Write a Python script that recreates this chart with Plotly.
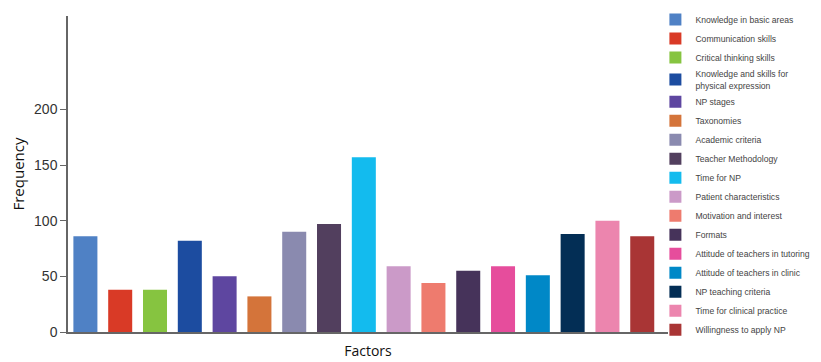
import plotly.graph_objects as go

factors = [
    "Knowledge in basic areas",
    "Communication skills",
    "Critical thinking skills",
    "Knowledge and skills for<br>physical expression",
    "NP stages",
    "Taxonomies",
    "Academic criteria",
    "Teacher Methodology",
    "Time for NP",
    "Patient characteristics",
    "Motivation and interest",
    "Formats",
    "Attitude of teachers in tutoring",
    "Attitude of teachers in clinic",
    "NP teaching criteria",
    "Time for clinical practice",
    "Willingness to apply NP",
]
frequency = [86, 38, 38, 82, 50, 32, 90, 97, 157, 59, 44, 55, 59, 51, 88, 100, 86]
colors = [
    "#4F81C5", "#D93A26", "#86C440", "#1C4CA0", "#5E46A0", "#D4743A",
    "#8A8AAF", "#523F5E", "#13BBEE", "#CB9AC8", "#EE7B6E", "#46335A",
    "#E64D9C", "#0088C7", "#032E55", "#EC85AE", "#A93535",
]
y_ticks = [0, 50, 100, 150, 200]

fig = go.Figure()
for i, (name, val, col) in enumerate(zip(factors, frequency, colors)):
    fig.add_trace(go.Bar(
        x=[i], y=[val], name=name, marker=dict(color=col, line=dict(width=0)),
        showlegend=True,
    ))

# page body has an 8px margin, so the figure is sized 8px smaller
fig.update_layout(
    width=813, height=354,
    margin=dict(l=60, r=153, t=8, b=30, autoexpand=False),
    plot_bgcolor="white", paper_bgcolor="white",
    barmode="overlay", bargap=0.31,
    font=dict(family="Liberation Sans, Arial, sans-serif", color="#333"),
    legend=dict(
        x=0.979, xanchor="left", y=1.035, yanchor="top",
        font=dict(size=8.6, color="#444"),
        bgcolor="rgba(0,0,0,0)", traceorder="normal",
        maxheight=360,
    ),
    xaxis=dict(
        range=[-0.5, 16.74], showticklabels=False, showgrid=False, zeroline=False,
        showline=True, linecolor="#666", linewidth=1.5, ticks="",
        title=dict(text="Factors", font=dict(family="Open Sans, sans-serif", size=14, color="#111"), standoff=13),
        automargin=False,
    ),
    yaxis=dict(
        range=[0, 284], tickvals=y_ticks, showgrid=False, zeroline=False,
        showline=True, linecolor="#666", linewidth=1.5,
        ticks="outside", ticklen=6, tickcolor="#666",
        tickfont=dict(size=14, color="#333"),
        title=dict(text="Frequency", font=dict(family="Open Sans, sans-serif", size=15, color="#111"), standoff=14),
        automargin=False,
    ),
)

fig.write_html("out.html")
